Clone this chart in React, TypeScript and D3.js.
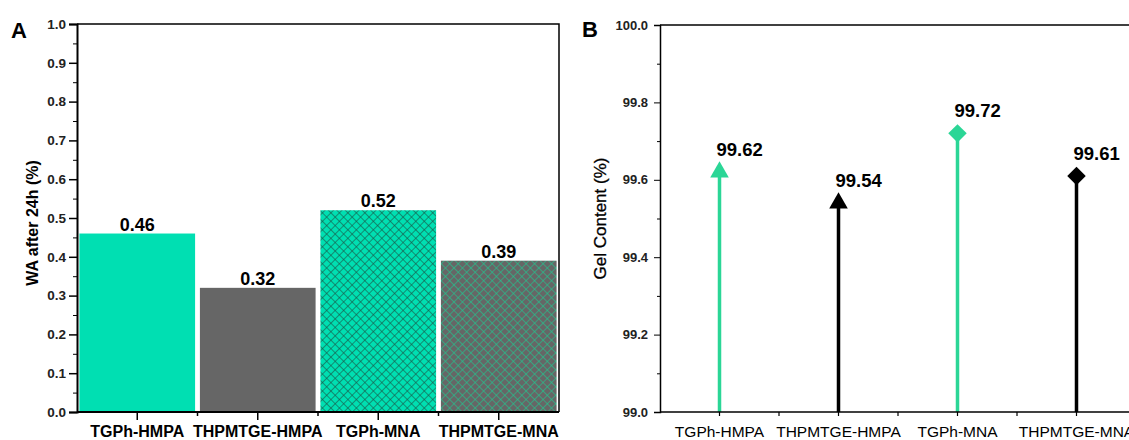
import React, { useEffect, useRef } from 'react';
import * as d3 from 'd3';

// panel A: water absorption
const categories = ['TGPh-HMPA', 'THPMTGE-HMPA', 'TGPh-MNA', 'THPMTGE-MNA'];
const waValues = [0.46, 0.32, 0.52, 0.39];
const waTicks = [0, 0.1, 0.2, 0.3, 0.4, 0.5, 0.6, 0.7, 0.8, 0.9, 1.0];

// panel B: gel content
const gelValues = [99.62, 99.54, 99.72, 99.61];
const gelTicks = [99.0, 99.2, 99.4, 99.6, 99.8, 100.0];
const gelMarkers = ['triangle', 'triangle', 'diamond', 'diamond'];

const GREEN = '#00DFB2';
const STEM_GREEN = '#2BD696';
const GRAY = '#666666';
const FONT = "Arial, 'Liberation Sans', sans-serif";

const App = () => {
    const ref = useRef<SVGSVGElement>(null);

    useEffect(() => {
        const svg = d3.select(ref.current);
        svg.selectAll('*').remove();

        const defs = svg.append('defs');
        const hatch = (id, bg, stroke) => {
            const p = defs.append('pattern')
                .attr('id', id)
                .attr('patternUnits', 'userSpaceOnUse')
                .attr('width', 6)
                .attr('height', 6)
                .attr('patternTransform', 'rotate(45)');
            p.append('rect').attr('width', 6).attr('height', 6).attr('fill', bg);
            p.append('line').attr('x1', 0).attr('y1', 0).attr('x2', 6).attr('y2', 0)
                .attr('stroke', stroke).attr('stroke-width', 1.2);
            p.append('line').attr('x1', 0).attr('y1', 0).attr('x2', 0).attr('y2', 6)
                .attr('stroke', stroke).attr('stroke-width', 1.2);
        };
        hatch('hatchGreen', GREEN, '#1a5646');
        hatch('hatchGray', GRAY, '#1fc890');
        const fills = [GREEN, GRAY, 'url(#hatchGreen)', 'url(#hatchGray)'];

        // ---------- Panel A ----------
        const ax0 = 77, ax1 = 559, ay0 = 24, ay1 = 412;
        const xA = d3.scaleBand().domain(categories).range([ax0, ax1])
            .paddingInner(0.04).paddingOuter(0.02);
        const yA = d3.scaleLinear().domain([0, 1]).range([ay1, ay0]);
        const gA = svg.append('g');

        gA.selectAll('rect.bar')
            .data(waValues)
            .enter().append('rect')
            .attr('class', 'bar')
            .attr('x', (d, i) => xA(categories[i]))
            .attr('width', xA.bandwidth())
            .attr('y', d => yA(d))
            .attr('height', d => yA(0) - yA(d))
            .attr('fill', (d, i) => fills[i]);

        gA.selectAll('text.val')
            .data(waValues)
            .enter().append('text')
            .attr('x', (d, i) => xA(categories[i]) + xA.bandwidth() / 2)
            .attr('y', d => yA(d) - 3)
            .attr('text-anchor', 'middle')
            .style('font', `bold 18px ${FONT}`)
            .text(d => d.toFixed(2));

        // frame top/right
        gA.append('path')
            .attr('d', `M${ax0},${ay0}H${ax1}V${ay1}`)
            .attr('fill', 'none').attr('stroke', '#000').attr('stroke-width', 1.5);

        const yAxisA = gA.append('g').attr('transform', `translate(${ax0},0)`)
            .call(d3.axisLeft(yA).tickValues(waTicks).tickSize(8).tickPadding(3)
                .tickFormat(d3.format('.1f')));
        gA.append('g').attr('transform', `translate(${ax0},0)`)
            .call(d3.axisLeft(yA).tickValues(d3.range(0.05, 1, 0.1)).tickSize(4).tickFormat(() => ''))
            .select('.domain').remove();
        yAxisA.selectAll('text').style('font', `bold 13.5px ${FONT}`).attr('fill', '#222');
        yAxisA.select('.domain').attr('stroke-width', 2);
        yAxisA.selectAll('line').attr('stroke-width', 1.5);

        const step = xA.step();
        const bottomA = gA.append('g');
        bottomA.append('line').attr('x1', ax0).attr('x2', ax1).attr('y1', ay1).attr('y2', ay1)
            .attr('stroke', '#000').attr('stroke-width', 2);
        categories.forEach((c, i) => {
            const cx = xA(c) + xA.bandwidth() / 2;
            bottomA.append('line').attr('x1', cx).attr('x2', cx).attr('y1', ay1).attr('y2', ay1 + 8)
                .attr('stroke', '#000').attr('stroke-width', 1.5);
            bottomA.append('text').attr('x', cx).attr('y', 437).attr('text-anchor', 'middle')
                .style('font', `bold 16px ${FONT}`).text(c);
            if (i > 0) {
                const bx = ax0 + step * i;
                bottomA.append('line').attr('x1', bx).attr('x2', bx).attr('y1', ay1).attr('y2', ay1 + 4)
                    .attr('stroke', '#000').attr('stroke-width', 1.5);
            }
        });

        gA.append('text')
            .attr('transform', `translate(38,${(ay0 + ay1) / 2 + 5}) rotate(-90)`)
            .attr('text-anchor', 'middle')
            .style('font', `bold 16px ${FONT}`)
            .text('WA after 24h (%)');
        gA.append('text').attr('x', 11).attr('y', 38)
            .style('font', `bold 22px ${FONT}`).text('A');

        // ---------- Panel B ----------
        const bx0 = 660, bx1 = 1136, by0 = 25, by1 = 412;
        const xB = d3.scalePoint().domain(categories).range([bx0, bx1]).padding(0.5);
        const yB = d3.scaleLinear().domain([99, 100]).range([by1, by0]);
        const gB = svg.append('g');

        gB.append('line').attr('x1', bx0).attr('x2', bx1).attr('y1', by0).attr('y2', by0)
            .attr('stroke', '#000').attr('stroke-width', 1.5);

        const stemColors = [STEM_GREEN, '#000', STEM_GREEN, '#000'];
        gB.selectAll('line.stem')
            .data(gelValues)
            .enter().append('line')
            .attr('x1', (d, i) => xB(categories[i]))
            .attr('x2', (d, i) => xB(categories[i]))
            .attr('y1', yB(99))
            .attr('y2', d => yB(d))
            .attr('stroke', (d, i) => stemColors[i])
            .attr('stroke-width', 3.5);

        const tri = d3.symbol().type(d3.symbolTriangle).size(150);
        const dia = d3.symbol().type(d3.symbolSquare).size(170);
        gB.selectAll('path.marker')
            .data(gelValues)
            .enter().append('path')
            .attr('d', (d, i) => (gelMarkers[i] === 'triangle' ? tri() : dia()))
            .attr('transform', (d, i) => `translate(${xB(categories[i])},${yB(d)})`
                + (gelMarkers[i] === 'diamond' ? ' rotate(45)' : ''))
            .attr('fill', (d, i) => stemColors[i]);

        gB.selectAll('text.val')
            .data(gelValues)
            .enter().append('text')
            .attr('x', (d, i) => xB(categories[i]) - 3)
            .attr('y', d => yB(d) - 16)
            .style('font', `bold 18.5px ${FONT}`)
            .text(d => d.toFixed(2));

        const yAxisB = gB.append('g').attr('transform', `translate(${bx0},0)`)
            .call(d3.axisLeft(yB).tickValues(gelTicks).tickSize(6).tickPadding(6)
                .tickFormat(d3.format('.1f')));
        gB.append('g').attr('transform', `translate(${bx0},0)`)
            .call(d3.axisLeft(yB).tickValues(d3.range(99.1, 100, 0.2)).tickSize(3).tickFormat(() => ''))
            .select('.domain').remove();
        yAxisB.selectAll('text').style('font', `bold 13px ${FONT}`).attr('fill', '#222');
        yAxisB.select('.domain').attr('stroke-width', 1.5);

        const stepB = xB.step();
        const bottomB = gB.append('g');
        bottomB.append('line').attr('x1', bx0).attr('x2', bx1).attr('y1', by1).attr('y2', by1)
            .attr('stroke', '#000').attr('stroke-width', 1.5);
        categories.forEach((c, i) => {
            const cx = xB(c);
            bottomB.append('line').attr('x1', cx).attr('x2', cx).attr('y1', by1).attr('y2', by1 + 4)
                .attr('stroke', '#000').attr('stroke-width', 1.2);
            bottomB.append('text').attr('x', cx).attr('y', 437).attr('text-anchor', 'middle')
                .style('font', `15.5px ${FONT}`).text(c);
            if (i > 0) {
                const mx = cx - stepB / 2;
                bottomB.append('line').attr('x1', mx).attr('x2', mx).attr('y1', by1).attr('y2', by1 + 4)
                    .attr('stroke', '#000').attr('stroke-width', 1.2);
            }
        });

        gB.append('text')
            .attr('transform', `translate(606,${(by0 + by1) / 2}) rotate(-90)`)
            .attr('text-anchor', 'middle')
            .style('font', `17px ${FONT}`)
            .attr('stroke', '#000').attr('stroke-width', 0.3)
            .text('Gel Content (%)');
        gB.append('text').attr('x', 582).attr('y', 37)
            .style('font', `bold 22px ${FONT}`).text('B');
    }, []);

    return (
        <svg ref={ref} width={1129} height={440}
            style={{ position: 'absolute', left: 0, top: 0, background: '#fff' }} />
    );
};

export default App;
